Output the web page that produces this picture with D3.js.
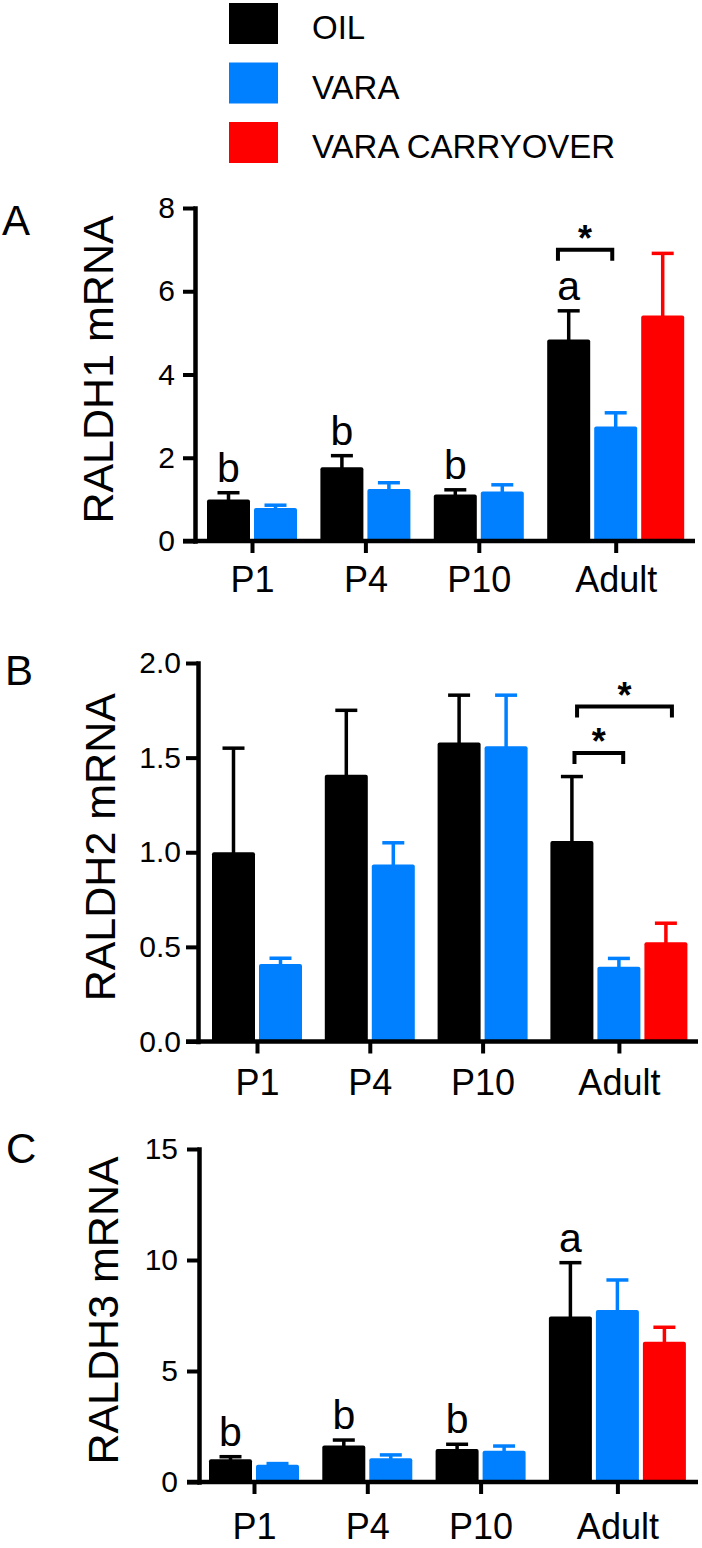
<!DOCTYPE html>
<html>
<head>
<meta charset="utf-8">
<script src="https://cdn.jsdelivr.net/npm/d3@7"></script>
<style>
  html, body { margin: 0; padding: 0; background: #fff; }
  svg text { font-family: "Liberation Sans", Arial, Helvetica, sans-serif; }
</style>
</head>
<body>
<svg id="chart" width="702" height="1548"></svg>
<script>
// ---------------- data ----------------
const groups = ["P1", "P4", "P10", "Adult"];
const seriesNames = ["OIL", "VARA", "VARA CARRYOVER"];
const seriesColors = ["#000000", "#0080ff", "#ff0000"];

// Panel A: RALDH1
const raldh1Oil      = [1.00, 1.77, 1.12, 4.84];
const raldh1OilErr   = [0.16, 0.28, 0.11, 0.69];
const raldh1Vara     = [0.79, 1.25, 1.19, 2.75];
const raldh1VaraErr  = [0.07, 0.15, 0.16, 0.33];
const raldh1Carry    = [null, null, null, 5.42];
const raldh1CarryErr = [null, null, null, 1.49];
const raldh1Letters  = ["b", "b", "b", "a"];
const raldh1Ticks    = [0, 2, 4, 6, 8];

// Panel B: RALDH2
const raldh2Oil      = [1.00, 1.41, 1.58, 1.06];
const raldh2OilErr   = [0.55, 0.34, 0.25, 0.34];
const raldh2Vara     = [0.41, 0.935, 1.56, 0.395];
const raldh2VaraErr  = [0.03, 0.115, 0.27, 0.044];
const raldh2Carry    = [null, null, null, 0.525];
const raldh2CarryErr = [null, null, null, 0.10];
const raldh2Letters  = [null, null, null, null];
const raldh2Ticks    = [0, 0.5, 1.0, 1.5, 2.0];

// Panel C: RALDH3
const raldh3Oil      = [1.02, 1.64, 1.49, 7.45];
const raldh3OilErr   = [0.12, 0.25, 0.21, 2.43];
const raldh3Vara     = [0.78, 1.07, 1.41, 7.75];
const raldh3VaraErr  = [0.05, 0.15, 0.21, 1.35];
const raldh3Carry    = [null, null, null, 6.32];
const raldh3CarryErr = [null, null, null, 0.65];
const raldh3Letters  = ["b", "b", "b", "a"];
const raldh3Ticks    = [0, 5, 10, 15];

// significance brackets (Adult group): [fromSeries, toSeries, level]
const raldh1Brackets = [[0, 1, 7.0]];
const raldh2Brackets = [[0, 1, 1.525], [0, 2, 1.77]];
const raldh3Brackets = [];

// ---------------- layout ----------------
const FONT = '"Liberation Sans", Arial, Helvetica, sans-serif';
const svg = d3.select("#chart");

const panels = [
  { id: "A", label: "RALDH1 mRNA", max: 8, ticks: raldh1Ticks, fmt: d3.format("d"),
    means: [raldh1Oil, raldh1Vara, raldh1Carry], errs: [raldh1OilErr, raldh1VaraErr, raldh1CarryErr],
    letters: raldh1Letters, brackets: raldh1Brackets, bfrac: [[0.25, 0.42]],
    axisX: 195, yTop: 208, yBottom: 541, gStart: 207, gStep: 113.4, xEnd: 695,
    labelX: 113, catDy: 51, tickPad: 8, letterX: 2, letterY: 235 },
  { id: "B", label: "RALDH2 mRNA", max: 2, ticks: raldh2Ticks, fmt: d3.format(".1f"),
    means: [raldh2Oil, raldh2Vara, raldh2Carry], errs: [raldh2OilErr, raldh2VaraErr, raldh2CarryErr],
    letters: raldh2Letters, brackets: raldh2Brackets, bfrac: [[0.56, 0.6], [0.62, 0.64]],
    axisX: 198, yTop: 663, yBottom: 1041.5, gStart: 212, gStep: 112.8, xEnd: 698,
    labelX: 115, catDy: 53, tickPad: 5, letterX: 5, letterY: 685 },
  { id: "C", label: "RALDH3 mRNA", max: 15, ticks: raldh3Ticks, fmt: d3.format("d"),
    means: [raldh3Oil, raldh3Vara, raldh3Carry], errs: [raldh3OilErr, raldh3VaraErr, raldh3CarryErr],
    letters: raldh3Letters, brackets: raldh3Brackets, bfrac: [],
    axisX: 199, yTop: 1149, yBottom: 1482, gStart: 209, gStep: 113.3, xEnd: 698,
    labelX: 118, catDy: 57, tickPad: 9, letterX: 6, letterY: 1163 }
];

const SLOT = 47, BAR = 43;

// ---------------- legend ----------------
const legend = svg.append("g");
seriesNames.forEach((name, i) => {
  legend.append("rect")
    .attr("x", 229).attr("y", 3 + i * 59.5)
    .attr("width", 49).attr("height", 41)
    .attr("fill", seriesColors[i]);
  legend.append("text")
    .attr("x", 312).attr("y", 39 + i * 59.5)
    .attr("font-size", 33).attr("fill", "#000")
    .text(name);
});

// ---------------- panels ----------------
panels.forEach(p => {
  const g = svg.append("g");
  const y = d3.scaleLinear().domain([0, p.max]).range([p.yBottom, p.yTop]);
  const xg = d3.scaleBand().domain(groups)
    .range([p.gStart, p.gStart + groups.length * p.gStep]).padding(0);
  const xi = d3.scaleBand().domain(d3.range(3)).range([0, 3 * SLOT - (SLOT - BAR)])
    .paddingInner((SLOT - BAR) / SLOT).paddingOuter(0);
  const nSeries = gi => p.means.filter(m => m[gi] != null).length;
  const centers = groups.map((gname, gi) => xg(gname) + (nSeries(gi) * SLOT - (SLOT - BAR)) / 2);
  const xc = d3.scaleOrdinal().domain(groups).range(centers);

  // bars
  const bars = [];
  p.means.forEach((arr, si) => arr.forEach((v, gi) => {
    if (v != null) bars.push({ si, gi, v, e: p.errs[si][gi] });
  }));
  const bx = d => xg(groups[d.gi]) + xi(d.si);

  g.selectAll("rect.bar").data(bars).join("rect")
    .attr("class", "bar")
    .attr("x", bx).attr("width", xi.bandwidth())
    .attr("y", d => y(d.v)).attr("height", d => y(0) - y(d.v))
    .attr("rx", 2)
    .attr("fill", d => seriesColors[d.si]);

  // error bars (upper only)
  const eb = g.selectAll("g.err").data(bars).join("g").attr("class", "err")
    .attr("stroke", d => seriesColors[d.si]).attr("stroke-width", 3.5);
  eb.append("line")
    .attr("x1", d => bx(d) + xi.bandwidth() / 2).attr("x2", d => bx(d) + xi.bandwidth() / 2)
    .attr("y1", d => y(d.v) + 1).attr("y2", d => y(d.v + d.e));
  eb.append("line")
    .attr("x1", d => bx(d) + xi.bandwidth() / 2 - 11).attr("x2", d => bx(d) + xi.bandwidth() / 2 + 11)
    .attr("y1", d => y(d.v + d.e)).attr("y2", d => y(d.v + d.e));

  // letters above OIL bars
  p.letters.forEach((L, gi) => {
    if (!L) return;
    const d = { si: 0, gi };
    g.append("text")
      .attr("x", bx(d) + xi.bandwidth() / 2)
      .attr("y", y(p.means[0][gi] + p.errs[0][gi]) - 11)
      .attr("text-anchor", "middle").attr("font-size", 41).attr("fill", "#000")
      .text(L);
  });

  // brackets
  p.brackets.forEach((b, bi) => {
    const gi = 3;
    const fr = p.bfrac[bi];
    const x1 = bx({ si: b[0], gi }) + fr[0] * xi.bandwidth();
    const x2 = bx({ si: b[1], gi }) + fr[1] * xi.bandwidth();
    const yy = y(b[2]);
    g.append("path")
      .attr("d", `M${x1},${yy + 11}V${yy}H${x2}V${yy + 11}`)
      .attr("fill", "none").attr("stroke", "#000").attr("stroke-width", 4);
    g.append("text")
      .attr("x", (x1 + x2) / 2).attr("y", yy + 1)
      .attr("text-anchor", "middle").attr("font-size", 36).attr("font-weight", "bold")
      .attr("fill", "#000").text("*");
  });

  // y axis
  const ya = g.append("g").attr("transform", `translate(${p.axisX},0)`)
    .call(d3.axisLeft(y).tickValues(p.ticks).tickFormat(p.fmt)
      .tickSize(12).tickSizeOuter(0).tickPadding(p.tickPad));
  ya.select(".domain").attr("stroke-width", 4.5).attr("stroke-linecap", "square");
  ya.selectAll(".tick line").attr("stroke-width", 4);
  ya.selectAll(".tick text").attr("font-size", 30).attr("font-family", FONT);

  // x axis line
  g.append("line")
    .attr("x1", p.axisX - 12).attr("x2", p.xEnd)
    .attr("y1", y(0)).attr("y2", y(0))
    .attr("stroke", "#000").attr("stroke-width", 4.5);

  const xa = g.append("g").attr("transform", `translate(0,${y(0)})`)
    .call(d3.axisBottom(xc).tickSize(12).tickSizeOuter(0).tickPadding(0));
  xa.select(".domain").remove();
  xa.selectAll(".tick line").attr("stroke-width", 4);
  xa.selectAll(".tick text")
    .attr("font-size", 36).attr("font-family", FONT)
    .attr("dy", null).attr("y", p.catDy);

  // y label
  g.append("text")
    .attr("transform", `translate(${p.labelX},${(p.yTop + p.yBottom) / 2 - 5}) rotate(-90)`)
    .attr("text-anchor", "middle").attr("font-size", 43).attr("fill", "#000")
    .text(p.label);

  // panel letter
  g.append("text")
    .attr("x", p.letterX).attr("y", p.letterY)
    .attr("font-size", 42).attr("fill", "#000")
    .text(p.id);
});
</script>
</body>
</html>
